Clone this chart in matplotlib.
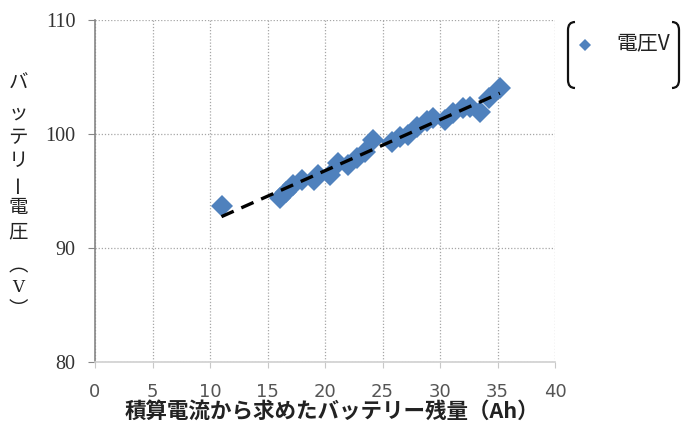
import matplotlib
matplotlib.use("Agg")
import matplotlib.pyplot as plt
from matplotlib.path import Path
from matplotlib.patches import PathPatch
import numpy as np

# integrated current -> remaining capacity (Ah), measured battery voltage (V)
remaining_ah = [11.0, 16.1, 16.6, 17.2, 18.0, 19.0, 19.4, 20.4, 21.1, 22.0, 22.8,
                23.5, 24.2, 25.8, 26.5, 27.2, 28.0, 28.9, 29.4, 30.4, 31.1,
                32.0, 32.6, 33.5, 34.3, 35.2]
voltage = [93.7, 94.4, 94.9, 95.5, 96.0, 96.0, 96.4, 96.4, 97.5, 97.3, 97.9,
           98.4, 99.5, 99.3, 99.7, 99.9, 100.6, 101.1, 101.4, 101.2, 101.8,
           102.3, 102.4, 101.9, 103.2, 104.0]

x_ticks = [0, 5, 10, 15, 20, 25, 30, 35, 40]
y_ticks = [80, 90, 100, 110]
ylabel_chars = ["バ", "ッ", "テ", "リ", "ー", "電", "圧", "︵", "V", "︶"]
xlabel = "積算電流から求めたバッテリー残量（Ah）"
legend_label = "電圧V"

jp = ["Noto Sans CJK JP", "DejaVu Sans"]
blue = "#4F81BD"

W, H = 683, 423
fig = plt.figure(figsize=(W / 100, H / 100), dpi=100)
ax = fig.add_axes([95 / W, 61 / H, 460 / W, 342 / H])

x = np.array(remaining_ah)
y = np.array(voltage)
ax.plot(x, y, linestyle="none", marker="D", markersize=11, color=blue,
        markeredgewidth=0, zorder=3)

# linear trend line over the data range
k, b = np.polyfit(x, y, 1)
xs = np.array([x.min(), x.max()])
ax.plot(xs, k * xs + b, color="black", linestyle=(0, (4, 2.5)), linewidth=2.4,
        zorder=4)

ax.set_xlim(0, 40)
ax.set_ylim(80, 110)
ax.set_xticks(x_ticks)
ax.set_yticks(y_ticks)
ax.grid(True, linestyle=(0, (1, 1.5)), color="#a6a6a6", linewidth=0.9)
ax.set_axisbelow(True)

for s in ["top", "right"]:
    ax.spines[s].set_visible(False)
ax.spines["left"].set_color("#868686")
ax.spines["bottom"].set_color("#d0d0d0")
ax.spines["left"].set_linewidth(1.2)
ax.spines["bottom"].set_linewidth(1.2)

ax.tick_params(axis="y", direction="out", length=5, color="#868686", pad=9,
               labelcolor="#333333")
ax.tick_params(axis="x", direction="out", length=4, color="#c8c8c8", pad=11,
               labelcolor="#555555")
for lab in ax.get_yticklabels():
    lab.set_fontfamily("Liberation Serif")
    lab.set_fontsize(14.5)
for lab in ax.get_xticklabels():
    lab.set_fontfamily("DejaVu Sans")
    lab.set_fontsize(13)

# x axis title
fig.text(332 / W, 1 - 411 / H, xlabel, family=jp, fontsize=15.5,
         fontweight="bold", ha="center", va="center", color="#222222")

# y axis title, written top to bottom one character at a time
ylab_y = [83, 113, 138, 160, 183, 207, 232, 266, 287, 309]
for ch, py in zip(ylabel_chars, ylab_y):
    fam = ["DejaVu Serif"] if ch == "V" else jp
    size = 12 if ch == "V" else 14
    rot = 90 if ch == "ー" else 0
    fig.text(18 / W, 1 - py / H, ch, family=fam, fontsize=size, rotation=rot,
             ha="center", va="center", color="#222222")

# legend with bracket-style frame
fig.lines.append(plt.Line2D([585 / W], [1 - 45 / H], transform=fig.transFigure,
                            marker="D", markersize=6.5, color=blue,
                            markeredgewidth=0, linestyle="none"))
fig.text(616 / W, 1 - 43 / H, legend_label, family=jp, fontsize=15,
         ha="left", va="center", color="#222222")


def bracket(x0, side):
    d = 7 * side
    verts = [(x0 + d, 22), (x0, 22), (x0, 30), (x0, 80), (x0, 88), (x0 + d, 88)]
    codes = [Path.MOVETO, Path.CURVE3, Path.CURVE3, Path.LINETO,
             Path.CURVE3, Path.CURVE3]
    verts = [(vx / W, 1 - vy / H) for vx, vy in verts]
    return PathPatch(Path(verts, codes), transform=fig.transFigure,
                     facecolor="none", edgecolor="#111111", linewidth=1.6)


fig.patches.append(bracket(568, 1))
fig.patches.append(bracket(679, -1))

fig.savefig("out.png", dpi=100)
